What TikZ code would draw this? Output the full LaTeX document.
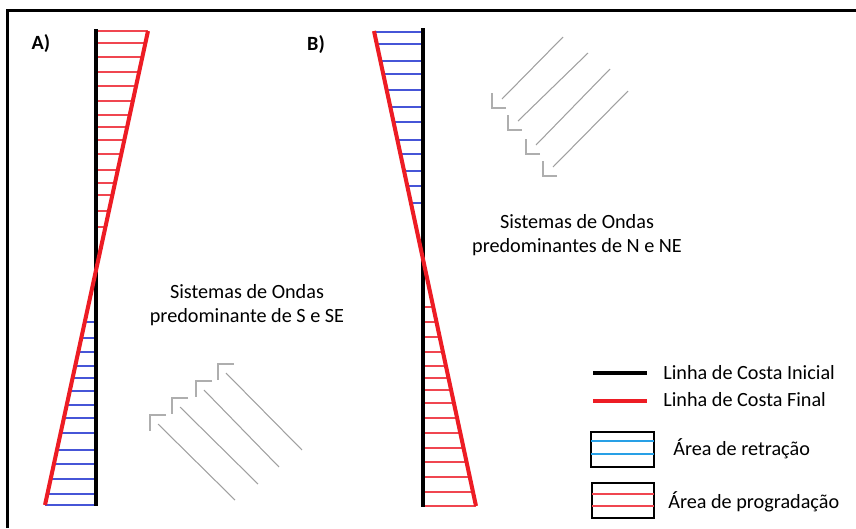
\documentclass[tikz,border=0pt]{standalone}
\usepackage{fontspec}
\setmainfont{Carlito}
\usetikzlibrary{calc}

\definecolor{coastred}{RGB}{237,28,36}
\definecolor{hatchred}{RGB}{240,70,80}
\definecolor{hatchblue}{RGB}{70,85,215}
\definecolor{legblue}{RGB}{40,160,230}
\definecolor{wavegray}{RGB}{160,160,160}

\tikzset{
  coastini/.style={line width=2.1pt,black},
  coastfin/.style={line width=2.3pt,coastred},
  retr/.style={line width=0.6pt,hatchblue},
  prog/.style={line width=0.6pt,hatchred},
  waveline/.style={line width=0.6pt,wavegray},
  wavehead/.style={line width=1.1pt,wavegray!85},
  caption/.style={align=center,inner sep=0pt,font=\fontsize{11.5}{13.6}\selectfont},
  legtext/.style={anchor=west,inner sep=0pt,font=\fontsize{11.5}{13.6}\selectfont},
}

\begin{document}
\begin{tikzpicture}[x=0.02cm,y=-0.02cm]
\useasboundingbox (0,0) rectangle (856,528);
% moldura
\draw[line width=1.7pt] (7.5,528) -- (7.5,10.5) -- (856,10.5);

% painel A
\coordinate (kAt) at (96,29);
\coordinate (kAb) at (96,506);
\coordinate (rAt) at (148,31);
\coordinate (rAb) at (45,505);
\foreach \y [evaluate=\y as \t using (\y-31)/474] in {31,43,57,72,86,101,115,127,140,154,170,183,195,211,227}
  \draw[prog] ($(rAt)!\t!(rAb)$) coordinate (p) -- (p -| kAt);
\foreach \y [evaluate=\y as \t using (\y-31)/474] in {322,338,352,366,378,391,405,418,433,450,464,479,494,505}
  \draw[retr] ($(rAt)!\t!(rAb)$) coordinate (p) -- (p -| kAt);
\draw[coastini] (kAt) -- (kAb);
\draw[coastfin] (rAt) -- (rAb);
\node[font=\bfseries\fontsize{11.5}{13}\selectfont] (labA) at (41,44) {A)};

% painel B
\coordinate (kBt) at (423,28);
\coordinate (kBb) at (423,507);
\coordinate (rBt) at (374,31);
\coordinate (rBb) at (476,506);
\foreach \y [evaluate=\y as \t using (\y-31)/475] in {32,44,61,74,90,107,122,140,154,171,186,203}
  \draw[retr] ($(rBt)!\t!(rBb)$) coordinate (p) -- (p -| kBt);
\foreach \y [evaluate=\y as \t using (\y-31)/475] in {307,322,337,352,366,378,390,403,418,433,448,462,477,492,506}
  \draw[prog] ($(rBt)!\t!(rBb)$) coordinate (p) -- (p -| kBt);
\draw[coastini] (kBt) -- (kBb);
\draw[coastfin] (rBt) -- (rBb);
\node[font=\bfseries\fontsize{11.5}{13}\selectfont] (labB) at (316,45) {B)};

% ondas
\node[caption] (ondA) at (247,305) {Sistemas de Ondas\\predominante de S e SE};
\node[caption] (ondB) at (577,235) {Sistemas de Ondas\\predominantes de N e NE};
\foreach \cx/\cy/\ex/\ey in {150/415/235/500,172/398/258/484,196/381/279/467,218/364/302/450}{
  \draw[wavehead] (\cx+16,\cy) -- (\cx,\cy) -- (\cx,\cy+16);
  \draw[waveline] (\cx+8,\cy+9) -- (\ex,\ey);
}
\foreach \cx/\cy/\ex/\ey in {492/108/563/37,508/130/588/53,526/154/610/69,543/176/628/91}{
  \draw[wavehead] (\cx+14,\cy) -- (\cx,\cy) -- (\cx,\cy-15);
  \draw[waveline] (\cx+10,\cy-9) -- (\ex,\ey);
}

% legenda
\coordinate (legI) at (593,373);
\coordinate (legF) at (593,401);
\draw[coastini] (legI) -- ++(54,0);
\draw[coastfin] (legF) -- ++(54,0);
\node[legtext] (txtI) at (663,373) {Linha de Costa Inicial};
\node[legtext] (txtF) at (663,400) {Linha de Costa Final};
\draw[line width=0.8pt] (591,432) rectangle (654,467);
\draw[line width=0.6pt,legblue] (591,441) -- (654,441) (591,454) -- (654,454);
\draw[line width=0.8pt] (592,483) rectangle (654,518);
\draw[line width=0.6pt,hatchred] (592,494) -- (654,494) (592,506) -- (654,506);
\node[legtext] (txtR) at (673,449) {Área de retração};
\node[legtext] (txtP) at (668,502) {Área de progradação};
\end{tikzpicture}
\end{document}
